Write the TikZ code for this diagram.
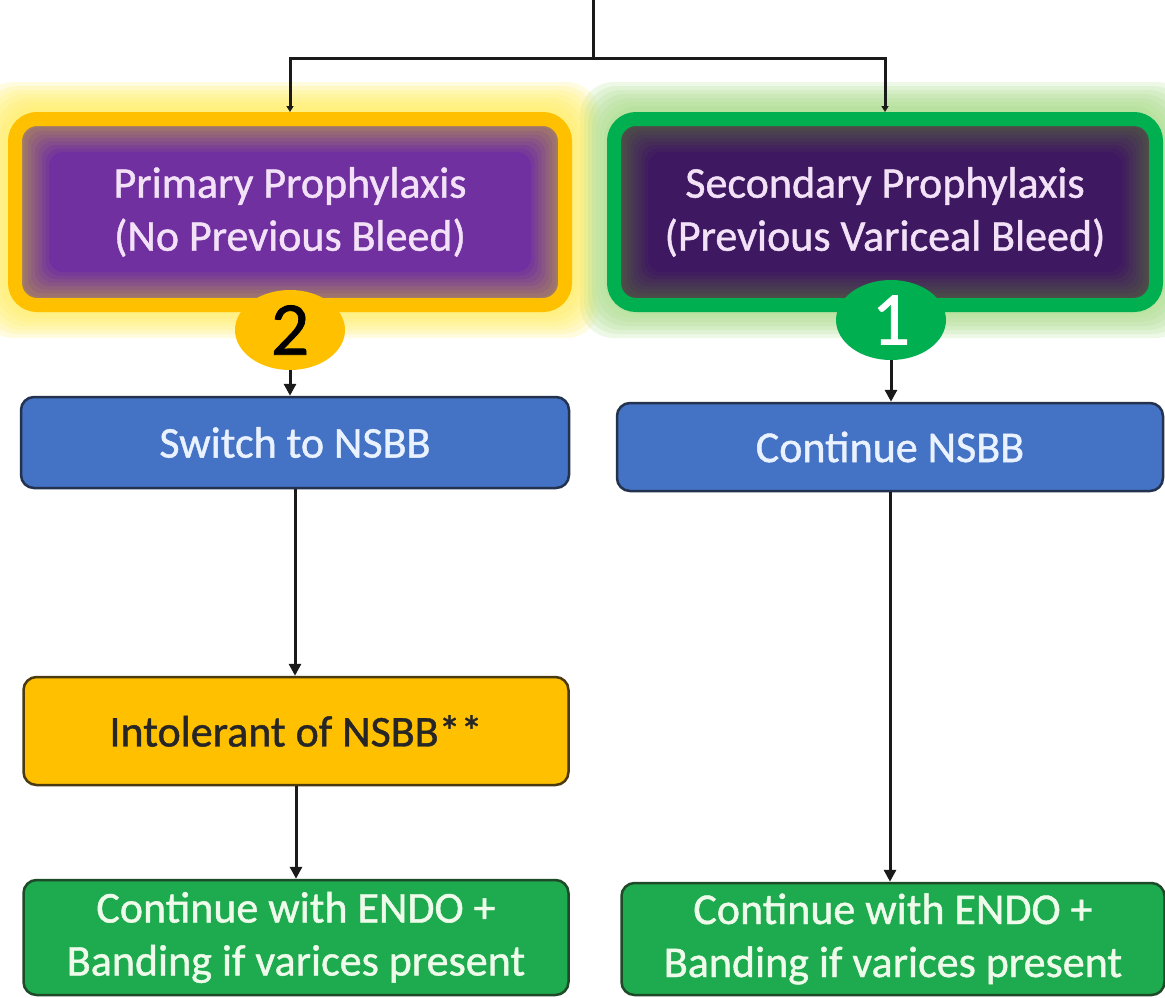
\documentclass[tikz,border=0pt]{standalone}
\usepackage{fontspec}
\setmainfont[FakeBold=1]{Carlito}
\usetikzlibrary{shapes.geometric,arrows.meta}
\definecolor{orangeY}{HTML}{FFC000}
\definecolor{greenH}{HTML}{00B050}
\definecolor{purpA}{HTML}{7030A0}
\definecolor{purpB}{HTML}{3F1862}
\definecolor{brownE}{HTML}{A27A68}
\definecolor{grayE}{HTML}{4E4E48}
\definecolor{blueB}{HTML}{4472C4}
\definecolor{greenB}{HTML}{1EAA4E}
\definecolor{glowY}{HTML}{FFEE60}
\definecolor{glowG}{HTML}{A8DC88}
\definecolor{txtL}{HTML}{F3E2F7}
\definecolor{txtB}{HTML}{EAF2FF}
\definecolor{txtG}{HTML}{EFFBEA}
\definecolor{edgeB}{HTML}{22324F}
\definecolor{edgeY}{HTML}{4A3A12}
\definecolor{edgeG}{HTML}{1E4A2A}
\definecolor{lineC}{HTML}{1A1A1A}
\tikzset{
  bigtxt/.style={font=\fontsize{44}{53}\selectfont, align=center},
  frame/.style={bigtxt, rectangle, rounded corners=22pt, line width=14pt, inner sep=0pt, text=txtL},
  badge/.style={ellipse, minimum width=110pt, minimum height=80pt, inner sep=0pt, font=\fontsize{76}{76}\selectfont},
  procbox/.style={bigtxt, rectangle, rounded corners=13pt, line width=2.5pt, inner sep=0pt},
  conn/.style={draw=lineC, line width=3pt},
  arr/.style={conn, -{Triangle[length=12pt,width=12pt]}},
}
\begin{document}
\begin{tikzpicture}[x=1pt,y=-1pt]
\useasboundingbox (0,0) rectangle (1165,997);
\fill[white] (0,0) rectangle (1165,997);

% glows
\foreach \i in {0,...,6} {
  \fill[glowY, opacity=0.2, rounded corners=34pt] ({-20+\i*4},{82+\i*4}) rectangle ({600-\i*4},{338-\i*4});
  \fill[glowG, opacity=0.2, rounded corners=34pt] ({580+\i*4},{82+\i*4}) rectangle ({1190-\i*4},{338-\i*4});
}

% soft-edged inner boxes
\foreach \i in {0,...,8} {
  \pgfmathtruncatemacro\p{\i*12.5}
  \fill[purpA!\p!brownE, rounded corners=14pt] ({21+\i*3.5},{124+\i*3.5}) rectangle ({559-\i*3.5},{300-\i*3.5});
  \fill[purpB!\p!grayE, rounded corners=14pt] ({620+\i*3.5},{124+\i*3.5}) rectangle ({1150-\i*3.5},{300-\i*3.5});
}

% framed headers
\node[frame, draw=orangeY, minimum width=550pt, minimum height=186pt] (prim) at (290,212) {Primary Prophylaxis\\(No Previous Bleed)};
\node[frame, draw=greenH, minimum width=542pt, minimum height=186pt] (sec) at (885,212) {Secondary Prophylaxis\\(Previous Variceal Bleed)};

% badges
\node[badge, fill=orangeY, text=black] (b2) at (290,330) {2};
\node[badge, fill=greenH, text=white] (b1) at (891,320) {1};

% process boxes
\node[procbox, fill=blueB, draw=edgeB, text=txtB, minimum width=548pt, minimum height=91pt] (sw) at (295,442.5) {Switch to NSBB};
\node[procbox, fill=blueB, draw=edgeB, text=txtB, minimum width=546pt, minimum height=88pt] (cn) at (890,447) {Continue NSBB};
\node[procbox, fill=orangeY, draw=edgeY, text=black!85, minimum width=545pt, minimum height=108pt] (intol) at (296,731) {Intolerant of NSBB**};
\node[procbox, fill=greenB, draw=edgeG, text=txtG, minimum width=545pt, minimum height=115pt] (gl) at (296,937.5) {Continue with ENDO +\\Banding if varices present};
\node[procbox, fill=greenB, draw=edgeG, text=txtG, minimum width=543pt, minimum height=112pt] (gr) at (893,939) {Continue with ENDO +\\Banding if varices present};

% connectors
\coordinate (top) at (593,0);
\coordinate (split) at (593,58);
\draw[conn] (top) -- (split);
\draw[conn, -{Triangle[length=6pt,width=7pt]}] (split) -| (prim.north);
\draw[conn, -{Triangle[length=6pt,width=7pt]}] (split) -| (sec.north);
\draw[arr] (b2.south) -- (b2.south |- sw.north);
\draw[arr] (b1.south) -- (b1.south |- cn.north);
\draw[arr] (sw.south) -- (sw.south |- intol.north);
\draw[arr] (intol.south) -- (intol.south |- gl.north);
\draw[arr] (cn.south) -- (cn.south |- gr.north);
\end{tikzpicture}
\end{document}
